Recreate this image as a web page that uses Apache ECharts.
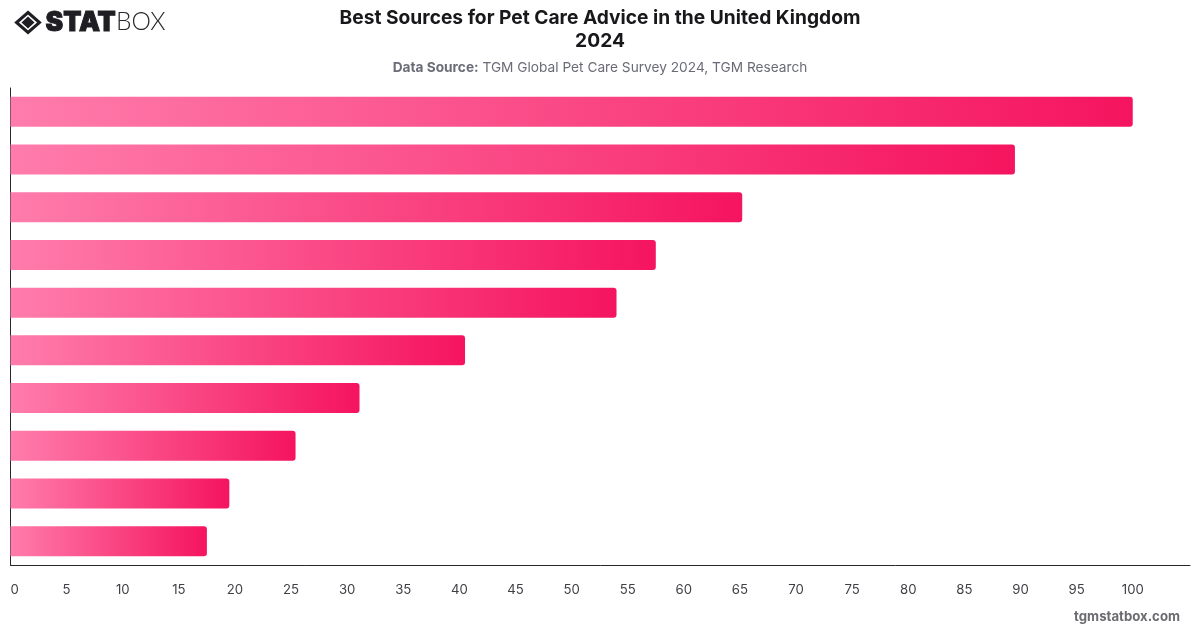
<!DOCTYPE html>
<html>
<head>
<meta charset="utf-8">
<style>html,body{margin:0;padding:0;background:#fff}#chart{width:1200px;height:628px}</style>
<script src="https://cdn.jsdelivr.net/npm/echarts@6/dist/echarts.min.js"></script>
</head>
<body>
<div id="chart"></div>
<script>
// Ranked sources, largest first; the source names are not printed on this chart.
const ranks = ['1', '2', '3', '4', '5', '6', '7', '8', '9', '10'];
const shares = [100, 89.5, 65.2, 57.5, 54, 40.5, 31.1, 25.4, 19.5, 17.5];
const chartTitle = 'Best Sources for Pet Care Advice in the United Kingdom\n2024';
const sourceLabel = 'Data Source:';
const sourceText = 'TGM Global Pet Care Survey 2024, TGM Research';
const siteName = 'tgmstatbox.com';

const FONT = 'Inter, "Liberation Sans", sans-serif';
const chart = echarts.init(document.getElementById('chart'), null, { renderer: 'canvas' });

chart.setOption({
  animation: false,
  backgroundColor: '#ffffff',
  title: [
    {
      text: chartTitle,
      left: 595, top: 1, textAlign: 'center',
      textStyle: { fontFamily: FONT, fontSize: 19.2, fontWeight: 700, color: '#18181b', lineHeight: 23.5 }
    },
    {
      text: '{b|' + sourceLabel + '}{r| ' + sourceText + '}',
      left: 595, top: 56, textAlign: 'center',
      textStyle: {
        rich: {
          b: { fontFamily: FONT, fontSize: 13.7, fontWeight: 700, color: '#6b6b78' },
          r: { fontFamily: FONT, fontSize: 13.7, fontWeight: 400, color: '#6b6b78' }
        }
      }
    }
  ],
  grid: { left: 10.5, right: 10, top: 88, bottom: 63, containLabel: false },
  xAxis: {
    type: 'value', min: 0, max: 105.1, interval: 5,
    splitLine: { show: false },
    axisTick: { show: false },
    axisLine: { show: true, lineStyle: { color: '#27272a', width: 1 } },
    axisLabel: {
      margin: 18.5, color: '#3f3f46', fontFamily: FONT, fontSize: 13.2, alignMinLabel: 'left',
      formatter: v => (v <= 100 ? String(v) : '')
    }
  },
  yAxis: {
    type: 'category', inverse: true, data: ranks,
    axisTick: { show: false },
    axisLabel: { show: false },
    axisLine: { show: true, lineStyle: { color: '#27272a', width: 1 } }
  },
  series: [{
    type: 'bar', data: shares, barWidth: 30, silent: true,
    itemStyle: {
      borderRadius: [0, 3, 3, 0],
      color: new echarts.graphic.LinearGradient(0, 0, 1, 0, [
        { offset: 0, color: '#ff7cab' },
        { offset: 1, color: '#f5145f' }
      ])
    }
  }],
  graphic: [
    // Logo mark: outlined diamond around a solid one
    { type: 'polygon', shape: { points: [[28, 12.5], [39.5, 22.5], [28, 32.5], [16.5, 22.5]] }, style: { fill: 'none', stroke: '#1f1f23', lineWidth: 3 } },
    { type: 'polygon', shape: { points: [[28, 16.5], [34.5, 22.5], [28, 28.5], [21.5, 22.5]] }, style: { fill: '#1f1f23' } },
    { type: 'text', left: 45, top: 9, style: { text: 'STAT', fontFamily: 'Inter, sans-serif', fontWeight: 900, fontSize: 26.5, fill: '#1f1f23', stroke: '#1f1f23', lineWidth: 1 } },
    { type: 'text', left: 116, top: 10, style: { text: 'BOX', fontFamily: 'Lato, sans-serif', fontWeight: 300, fontSize: 24.5, fill: '#2a2a2e' } },
    { type: 'text', right: 20, top: 611, style: { text: siteName, fontFamily: FONT, fontWeight: 700, fontSize: 13.2, fill: '#6b6b70' } }
  ]
});
</script>
</body>
</html>
